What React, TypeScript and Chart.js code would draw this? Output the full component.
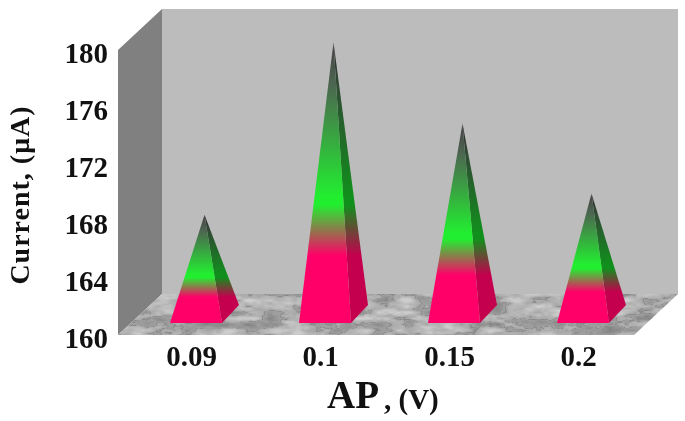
import React, { useEffect, useRef } from "react";
import { Chart, registerables } from "chart.js";

Chart.register(...registerables);

const categories = ["0.09", "0.1", "0.15", "0.2"];
const currentValues = [167, 179.1, 173.4, 168.5];
const yMin = 160;
const yMax = 180;
const yStep = 4;
const yTitle = "Current, (μA)";
const xTitleMain = "AP";
const xTitleUnit = ", (V)";

const SERIF = "'Liberation Serif', serif";
const DEPTH_X = 44;
const DEPTH_Y = 41;

function hash(x: number, y: number) {
  const s = Math.sin(x * 127.1 + y * 311.7) * 43758.5453;
  return s - Math.floor(s);
}
function smooth(t: number) {
  return t * t * (3 - 2 * t);
}
function vnoise(x: number, y: number) {
  const xi = Math.floor(x), yi = Math.floor(y);
  const u = smooth(x - xi), v = smooth(y - yi);
  const a = hash(xi, yi), b = hash(xi + 1, yi), c = hash(xi, yi + 1), d = hash(xi + 1, yi + 1);
  return a + (b - a) * u + (c - a) * v + (a - b - c + d) * u * v;
}

function marble(w: number, h: number) {
  const off = document.createElement("canvas");
  off.width = w;
  off.height = h;
  const g = off.getContext("2d")!;
  const img = g.createImageData(w, h);
  for (let y = 0; y < h; y++) {
    for (let x = 0; x < w; x++) {
      const n =
        0.55 * vnoise(x / 22, y / 6) +
        0.3 * vnoise(x / 10, y / 3 + 7) +
        0.15 * vnoise(x / 4, y / 2 + 13);
      const vein = Math.max(0, 1 - Math.abs(n - 0.44) / 0.03) * -28;
      const c = Math.max(112, Math.min(205, 170 + (n - 0.5) * 105 + vein));
      const i = (y * w + x) * 4;
      img.data[i] = c;
      img.data[i + 1] = c;
      img.data[i + 2] = c + 1;
      img.data[i + 3] = 255;
    }
  }
  g.putImageData(img, 0, 0);
  return off;
}

function poly(ctx: CanvasRenderingContext2D, pts: number[][]) {
  ctx.beginPath();
  pts.forEach((p, i) => (i ? ctx.lineTo(p[0], p[1]) : ctx.moveTo(p[0], p[1])));
  ctx.closePath();
}

function faceGradient(
  ctx: CanvasRenderingContext2D,
  yBase: number,
  yTop: number,
  stops: string[]
) {
  const g = ctx.createLinearGradient(0, yBase, 0, yTop);
  g.addColorStop(0, stops[0]);
  g.addColorStop(0.24, stops[0]);
  g.addColorStop(0.42, stops[1]);
  g.addColorStop(0.45, stops[1]);
  g.addColorStop(0.85, stops[2]);
  g.addColorStop(0.97, stops[3]);
  g.addColorStop(1, stops[3]);
  return g;
}

const scenePlugin = {
  id: "scene",
  beforeDatasetsDraw(chart: any) {
    const { ctx, chartArea: a } = chart;
    ctx.save();
    ctx.fillStyle = "#bcbcbc";
    ctx.fillRect(a.left + DEPTH_X, a.top - DEPTH_Y, a.right - a.left, a.bottom - a.top);
    ctx.fillStyle = "#808080";
    poly(ctx, [
      [a.left, a.top],
      [a.left + DEPTH_X, a.top - DEPTH_Y],
      [a.left + DEPTH_X, a.bottom - DEPTH_Y],
      [a.left, a.bottom],
    ]);
    ctx.fill();
    poly(ctx, [
      [a.left, a.bottom],
      [a.right, a.bottom],
      [a.right + DEPTH_X, a.bottom - DEPTH_Y],
      [a.left + DEPTH_X, a.bottom - DEPTH_Y],
    ]);
    ctx.save();
    ctx.clip();
    ctx.drawImage(
      marble(a.right - a.left + DEPTH_X, DEPTH_Y),
      a.left,
      a.bottom - DEPTH_Y
    );
    ctx.restore();
    ctx.restore();
  },
  afterDatasetsDraw(chart: any) {
    const { ctx, chartArea: a } = chart;
    const bars = chart.getDatasetMeta(0).data;
    const halfW = 26;
    const dx = 17;
    const dy = 18;
    bars.forEach((bar: any) => {
      const cx = bar.x + 13.5;
      const yFront = a.bottom - 12;
      const apexX = cx + dx / 2;
      const apexY = bar.y - DEPTH_Y / 2;
      const fl = [cx - halfW, yFront];
      const fr = [cx + halfW, yFront];
      const br = [cx + halfW + dx, yFront - dy];
      const apex = [apexX, apexY];
      ctx.save();
      ctx.fillStyle = faceGradient(ctx, yFront, apexY, ["#c4004e", "#118f1c", "#2f4a33", "#2e2e2e"]);
      poly(ctx, [fr, br, apex]);
      ctx.fill();
      ctx.fillStyle = faceGradient(ctx, yFront, apexY, ["#ff0068", "#22ee30", "#4c6650", "#484848"]);
      poly(ctx, [fl, fr, apex]);
      ctx.fill();
      ctx.restore();
    });
  },
  afterDraw(chart: any) {
    const { ctx } = chart;
    ctx.save();
    ctx.fillStyle = "#111";
    ctx.textBaseline = "alphabetic";
    ctx.textAlign = "left";
    ctx.font = `bold 39px ${SERIF}`;
    ctx.fillText(xTitleMain, 327, 408);
    ctx.font = `bold 29px ${SERIF}`;
    ctx.fillText(xTitleUnit, 384, 409);
    ctx.translate(29, 195);
    ctx.rotate(-Math.PI / 2);
    ctx.textAlign = "center";
    ctx.font = `bold 28px ${SERIF}`;
    (ctx as any).letterSpacing = "1px";
    ctx.fillText(yTitle, 0, 0);
    ctx.restore();
  },
};

export default function App() {
  const ref = useRef<HTMLCanvasElement>(null);
  useEffect(() => {
    document.body.style.margin = "0";
    const chart = new Chart(ref.current!, {
      type: "bar",
      data: {
        labels: categories,
        datasets: [
          {
            label: "Current",
            data: currentValues,
            backgroundColor: "rgba(0,0,0,0)",
            borderWidth: 0,
          },
        ],
      },
      options: {
        responsive: false,
        animation: false,
        layout: { padding: { top: 50, right: 51, left: 0, bottom: 0 } },
        plugins: { legend: { display: false }, tooltip: { enabled: false } },
        scales: {
          x: {
            afterFit: (s: any) => {
              s.height = 86;
            },
            grid: { display: false, drawTicks: false },
            border: { display: false },
            ticks: {
              color: "#111",
              font: { family: SERIF, weight: "bold", size: 29 },
              padding: 6,
              labelOffset: 9,
              maxRotation: 0,
            },
          },
          y: {
            min: yMin,
            max: yMax,
            afterFit: (s: any) => {
              s.width = 118;
            },
            grid: { display: false, drawTicks: false },
            border: { display: false },
            ticks: {
              stepSize: yStep,
              color: "#111",
              font: { family: SERIF, weight: "bold", size: 29 },
              padding: 10,
              labelOffset: 6,
            },
          },
        },
      },
      plugins: [scenePlugin],
    } as any);
    return () => chart.destroy();
  }, []);
  return (
    <canvas
      ref={ref}
      width={685}
      height={421}
      style={{ display: "block", filter: "blur(0.5px)" }}
    />
  );
}
